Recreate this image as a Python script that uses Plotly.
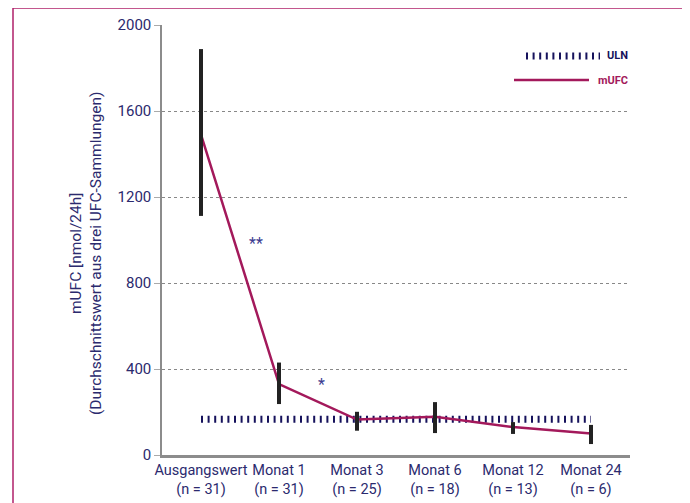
import plotly.graph_objects as go

# ---- data ----
categories = ["Ausgangswert<br>(n = 31)", "Monat 1<br>(n = 31)", "Monat 3<br>(n = 25)",
              "Monat 6<br>(n = 18)", "Monat 12<br>(n = 13)", "Monat 24<br>(n = 6)"]
mufc_mean = [1490, 330, 165, 178, 130, 100]
bar_upper = [1888, 430, 201, 246, 153, 140]
bar_lower = [1112, 237, 113, 102, 98, 51]
uln_value = 166
y_ticks = [0, 400, 800, 1200, 1600, 2000]

NAVY = "#2b2a6e"
DNAVY = "#16125c"
CRIMSON = "#a3195b"
FONT = "Roboto, Liberation Sans, Arial, sans-serif"

err_plus = [u - m for u, m in zip(bar_upper, mufc_mean)]
err_minus = [m - l for m, l in zip(mufc_mean, bar_lower)]

fig = go.Figure()

# ULN line
fig.add_trace(go.Scatter(
    x=categories, y=[uln_value] * len(categories), mode="lines",
    line=dict(color=DNAVY, width=7, dash="2px,4.6px"),
    showlegend=False, hoverinfo="skip"))

# mUFC line
fig.add_trace(go.Scatter(
    x=categories, y=mufc_mean, mode="lines",
    line=dict(color=CRIMSON, width=2.5),
    showlegend=False))

# error bars on top
fig.add_trace(go.Scatter(
    x=categories, y=mufc_mean, mode="markers",
    marker=dict(size=1, color="rgba(0,0,0,0)"),
    error_y=dict(type="data", symmetric=False, array=err_plus, arrayminus=err_minus,
                 color="#222222", thickness=4, width=0),
    showlegend=False, hoverinfo="skip"))

OFF = 8  # page body margin
W, H = 690, 503
# plot area in screen pixels
SX0, SX1, SY0, SY1 = 162, 630, 25, 455
L = SX0 - OFF
T = SY0 - OFF
R = W - (SX1 - OFF)
B = H - (SY1 - OFF)
pw, ph = SX1 - SX0, SY1 - SY0

def px_x(x):
    return (x - SX0) / pw

def px_y(y):
    return (SY1 - y) / ph

shapes = [
    # outer border
    dict(type="rect", xref="paper", yref="paper",
         x0=px_x(13), x1=px_x(686), y0=px_y(530), y1=px_y(8),
         line=dict(color="#b0206a", width=1.5), layer="below"),
    # legend samples
    dict(type="line", xref="paper", yref="paper",
         x0=px_x(526), x1=px_x(600), y0=px_y(56), y1=px_y(56),
         line=dict(color=DNAVY, width=7, dash="2px,4.6px")),
    dict(type="line", xref="paper", yref="paper",
         x0=px_x(514), x1=px_x(589), y0=px_y(80), y1=px_y(80),
         line=dict(color=CRIMSON, width=2.5)),
]

annotations = [
    dict(text="<b>ULN</b>", xref="paper", yref="paper", x=px_x(630), y=px_y(56),
         xanchor="right", yanchor="middle", showarrow=False,
         font=dict(size=11, color=DNAVY, family=FONT)),
    dict(text="<b>mUFC</b>", xref="paper", yref="paper", x=px_x(630), y=px_y(80),
         xanchor="right", yanchor="middle", showarrow=False,
         font=dict(size=11, color=CRIMSON, family=FONT)),
    dict(text="mUFC [nmol/24h]<br>(Durchschnittswert aus drei UFC-Sammlungen)",
         xref="paper", yref="paper", x=px_x(86), y=px_y(254),
         xanchor="center", yanchor="middle", textangle=-90, showarrow=False,
         font=dict(size=15.5, color=NAVY, family=FONT)),
    dict(text="**", x=0.70, y=985, xref="x", yref="y", showarrow=False,
         font=dict(size=16, color="#3c3c90", family=FONT)),
    dict(text="*", x=1.54, y=330, xref="x", yref="y", showarrow=False,
         font=dict(size=16, color="#3c3c90", family=FONT)),
]

fig.update_layout(
    width=W, height=H,
    margin=dict(l=L, r=R, t=T, b=B, autoexpand=False),
    paper_bgcolor="white", plot_bgcolor="white",
    font=dict(family=FONT, size=15, color=NAVY),
    shapes=shapes, annotations=annotations,
    xaxis=dict(type="category", range=[-0.5, 5.5], showgrid=False,
               showline=True, linecolor="#8c8c8c", linewidth=2.5,
               ticks="", tickangle=0, automargin=False,
               tickfont=dict(size=14.5, color=NAVY), fixedrange=True),
    yaxis=dict(range=[0, 2000], tickvals=y_ticks, showgrid=True,
               gridcolor="#888888", griddash="dot", gridwidth=1,
               showline=True, linecolor="#8c8c8c", linewidth=1.5,
               ticks="outside", ticklen=6, tickcolor="#aaaaaa", automargin=False,
               zeroline=False, tickfont=dict(size=15, color=NAVY), fixedrange=True),
)

fig.write_html("out.html")
